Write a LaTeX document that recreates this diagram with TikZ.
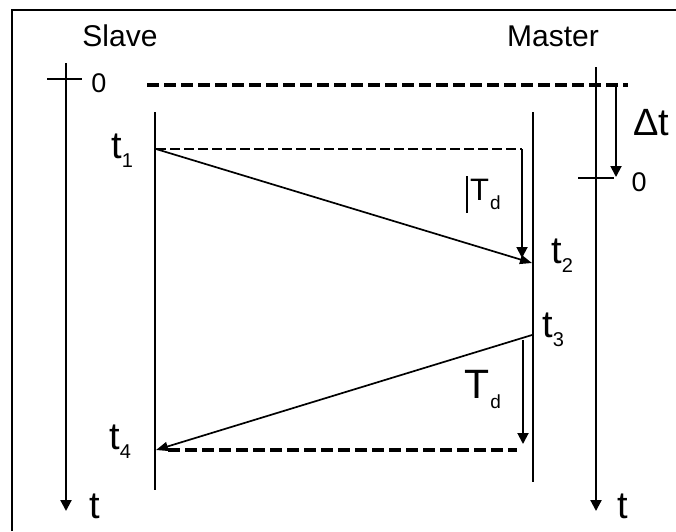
\documentclass[tikz,border=0pt]{standalone}
\usepackage{fontspec}
\setmainfont{Liberation Sans}
\usetikzlibrary{arrows.meta}
\begin{document}
\begin{tikzpicture}[x=1pt,y=-1pt,
  axisline/.style={line width=2.2pt},
  tip/.style={-{Triangle[length=11pt,width=11pt]}},
  thickdash/.style={line width=3.2pt,dash pattern=on 12pt off 5pt},
  thindash/.style={line width=1.7pt,dash pattern=on 10pt off 4pt},
  msg/.style={line width=1.7pt,-{Triangle[length=12pt,width=9pt]}},
  lbl/.style={inner sep=0pt,font=\fontsize{30}{34}\selectfont},
  tl/.style={inner sep=0pt,font=\fontsize{38}{42}\selectfont},
  zl/.style={inner sep=0pt,font=\fontsize{27}{30}\selectfont}]
\newcommand{\sbs}[2]{\hspace{#2}\raisebox{-9pt}{\fontsize{20}{22}\selectfont #1}}
\newcommand{\sbd}[1]{\hspace{1pt}\raisebox{#1}{\fontsize{19}{22}\selectfont d}}
\useasboundingbox (0,0) rectangle (676,531);
% frame
\draw[line width=1.8pt] (12,531) -- (12,10) -- (676,10);
% coordinates
\coordinate (sa0) at (66,63);
\coordinate (sa1) at (66,511);
\coordinate (ma0) at (596,67);
\coordinate (ma1) at (596,511);
\coordinate (sc0) at (155,112);
\coordinate (sc1) at (155,490);
\coordinate (mc0) at (533,112);
\coordinate (mc1) at (533,482);
\coordinate (t1) at (156,149);
\coordinate (t2) at (532,263);
\coordinate (t3) at (532,335);
\coordinate (t4) at (156,450);
\coordinate (stk0) at (47,79);
\coordinate (stk1) at (82,79);
\coordinate (mtk0) at (578,178);
\coordinate (mtk1) at (614,178);
\coordinate (d0) at (147,85);
\coordinate (d1) at (628,85);
\coordinate (dt0) at (616,85);
\coordinate (dt1) at (616,177);
\coordinate (td1a) at (522,149);
\coordinate (td1b) at (522,258);
\coordinate (td2a) at (523,340);
\coordinate (td2b) at (523,444);
\coordinate (dd0) at (168,450);
\coordinate (dd1) at (517,450);
\coordinate (bar0) at (467,176);
\coordinate (bar1) at (467,213);
% labels
\node[lbl] (slave) at (120,36) {Slave};
\node[lbl] (master) at (553,36) {Master};
\node[zl] (z1) at (99,83) {0};
\node[zl] (z2) at (639,182) {0};
\node[tl,anchor=base] (dt) at (651,135) {Δt};
\node[tl,anchor=base west] (l1) at (111,158) {t\sbs{1}{0pt}};
\node[tl,anchor=base west] (l2) at (551,263) {t\sbs{2}{0pt}};
\node[tl,anchor=base west] (l3) at (542,337) {t\sbs{3}{0pt}};
\node[tl,anchor=base west] (l4) at (109,449) {t\sbs{4}{0pt}};
\node[tl,anchor=base west] (ts) at (89,518) {t};
\node[tl,anchor=base west] (tm) at (617,518) {t};
\node[inner sep=0pt,anchor=base west,font=\fontsize{31}{34}\selectfont] (tdA) at (470,200) {T\sbd{-9pt}};
\node[inner sep=0pt,anchor=base west,font=\fontsize{41}{44}\selectfont] (tdB) at (464,398) {T\sbd{-10pt}};
% axes
\draw[axisline,tip] (sa0) -- (sa1);
\draw[axisline,tip] (ma0) -- (ma1);
\draw[line width=1.6pt] (stk0) -- (stk1);
\draw[line width=1.6pt] (mtk0) -- (mtk1);
% clock lines
\draw[axisline] (sc0) -- (sc1);
\draw[axisline] (mc0) -- (mc1);
% dashed lines
\draw[thickdash] (d0) -- (d1);
\draw[thindash] (t1) -- (td1a);
\draw[thickdash] (dd0) -- (dd1);
% offset arrow
\draw[line width=1.9pt,tip] (dt0) -- (dt1);
% Td arrows
\draw[line width=1.9pt,tip] (td1a) -- (td1b);
\draw[line width=1.9pt,tip] (td2a) -- (td2b);
\draw[line width=1.4pt] (bar0) -- (bar1);
% messages
\draw[msg] (t1) -- (t2);
\draw[msg] (t3) -- (t4);
\end{tikzpicture}
\end{document}
